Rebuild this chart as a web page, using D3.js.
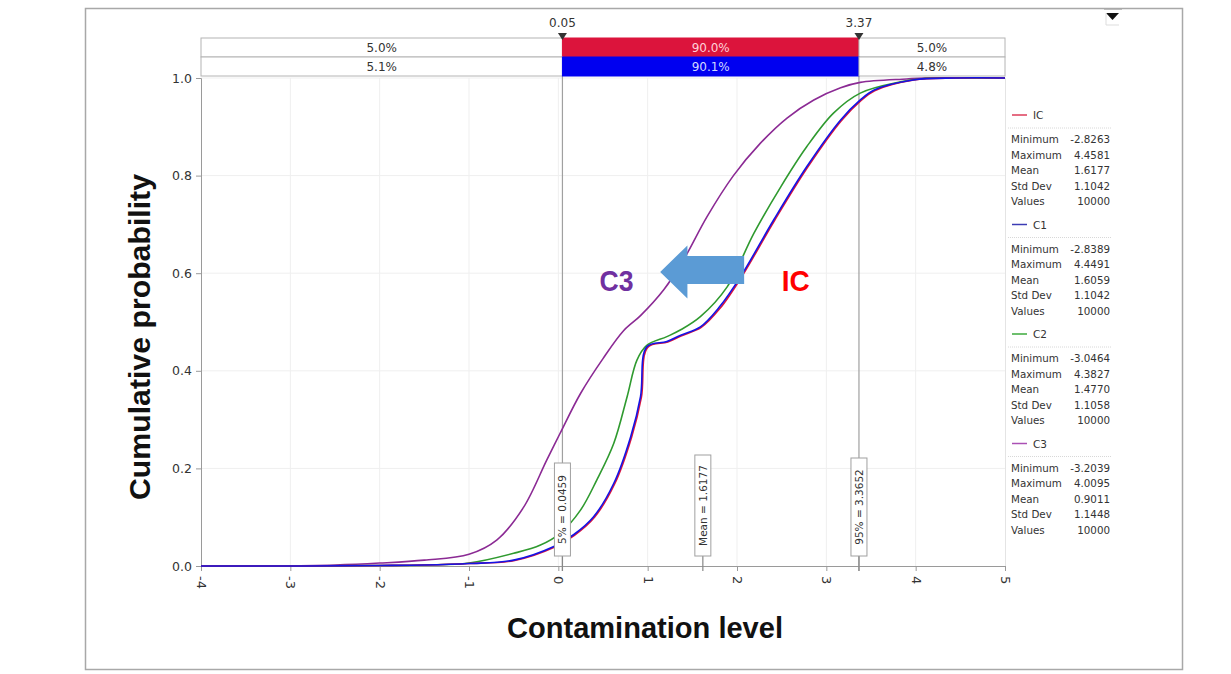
<!DOCTYPE html>
<html><head><meta charset="utf-8">
<script src="https://cdn.jsdelivr.net/npm/d3@7"></script>
<style>body{margin:0;background:#fff;} svg{display:block;}</style>
</head><body><svg id="c" width="1231" height="674"></svg>
<script>
// ---------- data ----------
const xTicks = [-4, -3, -2, -1, 0, 1, 2, 3, 4, 5];
const yTicks = [0, 0.2, 0.4, 0.6, 0.8, 1.0];
const seriesNames = ["IC", "C1", "C2", "C3"];
const seriesColors = ["#dc143c", "#1414e6", "#2f9a2f", "#8b2a94"];
const legendColors = ["#dc3c5a", "#3c3cb4", "#3caa3c", "#aa50b4"];

const icPts = [[-4,0],[-2.83,0],[-2,0.001],[-1.5,0.002],[-1,0.005],[-0.5,0.011],[-0.04,0.039],[0.18,0.063],[0.405,0.1],[0.63,0.168],[0.82,0.264],[0.93,0.346],[1.0,0.448],[1.225,0.459],[1.38,0.472],[1.6,0.489],[1.81,0.528],[2.05,0.592],[2.42,0.708],[2.79,0.817],[3.17,0.913],[3.39,0.954],[3.54,0.974],[3.98,0.996],[4.46,1],[5,1]];
const c1Pts = [[-4,0],[-2.84,0],[-2,0.001],[-1.5,0.002],[-1,0.005],[-0.5,0.012],[-0.05,0.04],[0.17,0.064],[0.395,0.101],[0.62,0.169],[0.81,0.265],[0.92,0.347],[0.99,0.449],[1.215,0.46],[1.37,0.473],[1.59,0.49],[1.8,0.53],[2.04,0.593],[2.41,0.709],[2.78,0.818],[3.16,0.914],[3.38,0.955],[3.53,0.975],[3.97,0.996],[4.45,1],[5,1]];
const c2Pts = [[-4,0],[-3.05,0],[-2,0.001],[-1.5,0.002],[-1,0.006],[-0.5,0.026],[-0.2,0.043],[0.02,0.067],[0.25,0.115],[0.43,0.176],[0.62,0.251],[0.77,0.347],[0.88,0.422],[0.99,0.452],[1.215,0.47],[1.37,0.484],[1.59,0.511],[1.89,0.572],[2.19,0.682],[2.49,0.777],[2.78,0.859],[3.08,0.928],[3.38,0.969],[3.83,0.992],[4.09,0.999],[4.38,1],[5,1]];
const c3Pts = [[-4,0],[-3.2,0],[-2.5,0.002],[-2,0.006],[-1.5,0.012],[-1,0.024],[-0.69,0.053],[-0.39,0.12],[-0.13,0.217],[0.02,0.272],[0.25,0.354],[0.5,0.425],[0.73,0.482],[0.92,0.513],[1.18,0.566],[1.4,0.627],[1.665,0.716],[1.96,0.8],[2.26,0.866],[2.56,0.918],[2.86,0.955],[3.16,0.98],[3.38,0.991],[3.9,0.998],[4.1,1],[5,1]];
const seriesPts = [icPts, c1Pts, c2Pts, c3Pts];

const statLabels = ["Minimum", "Maximum", "Mean", "Std Dev", "Values"];
const statsIC = ["-2.8263", "4.4581", "1.6177", "1.1042", "10000"];
const statsC1 = ["-2.8389", "4.4491", "1.6059", "1.1042", "10000"];
const statsC2 = ["-3.0464", "4.3827", "1.4770", "1.1058", "10000"];
const statsC3 = ["-3.2039", "4.0095", "0.9011", "1.1448", "10000"];
const allStats = [statsIC, statsC1, statsC2, statsC3];

const bandCuts = [0.0459, 3.3652];
const cutLabels = ["0.05", "3.37"];
const bandTop = ["5.0%", "90.0%", "5.0%"];
const bandBottom = ["5.1%", "90.1%", "4.8%"];
const markerVals = [0.0459, 1.6177, 3.3652];
const markerLabels = ["5% = 0.0459", "Mean = 1.6177", "95% = 3.3652"];

// annotation arrow (data units): tip x, head base x, tail x, body p range, head p range
const arrowX = [1.14, 1.445, 2.08];
const arrowBodyP = [0.578, 0.635];
const arrowHeadP = [0.548, 0.657];

// ---------- layout ----------
const svg = d3.select("#c");
const X0 = 201, X1 = 1005, YT = 78, YB = 566;
const x = d3.scaleLinear().domain([-4, 5]).range([X0, X1]);
const y = d3.scaleLinear().domain([0, 1]).range([YB, YT]);
const F = "'DejaVu Sans', Verdana, sans-serif";

// outer frame
svg.append("rect").attr("x", 85.5).attr("y", 8.5).attr("width", 1097).attr("height", 661)
  .attr("fill", "none").attr("stroke", "#a8a8a8").attr("stroke-width", 1.5);

// grid
const g = svg.append("g");
g.selectAll("line.vg").data(xTicks.slice(1, -1)).join("line")
  .attr("x1", d => x(d)).attr("x2", d => x(d)).attr("y1", YT).attr("y2", YB)
  .attr("stroke", "#efefef");
g.selectAll("line.hg").data(yTicks.slice(1)).join("line")
  .attr("x1", X0).attr("x2", X1).attr("y1", d => y(d)).attr("y2", d => y(d))
  .attr("stroke", "#efefef");
svg.append("line").attr("x1", X1 + 0.5).attr("x2", X1 + 0.5).attr("y1", YT).attr("y2", YB).attr("stroke", "#e4e4e4");

// axes
const ya = svg.append("g").attr("transform", `translate(${X0},0)`)
  .call(d3.axisLeft(y).tickValues(yTicks).tickFormat(d3.format(".1f")).tickSize(5).tickPadding(4));
ya.select(".domain").attr("stroke", "#9a9a9a");
ya.selectAll(".tick line").attr("stroke", "#9a9a9a");
ya.selectAll("text").attr("font-family", F).attr("font-size", 12.5).attr("fill", "#333");

const xa = svg.append("g").attr("transform", `translate(0,${YB})`)
  .call(d3.axisBottom(x).tickValues(xTicks).tickFormat(d => String(d)).tickSize(5));
xa.select(".domain").attr("stroke", "#9a9a9a");
xa.selectAll(".tick line").attr("stroke", "#9a9a9a");
xa.selectAll("text").attr("font-family", F).attr("font-size", 13).attr("fill", "#333")
  .attr("transform", "rotate(90)").attr("text-anchor", "start")
  .attr("x", 10).attr("y", 0).attr("dy", "0.35em");

// cut lines through plot and band
bandCuts.forEach(v => {
  svg.append("line").attr("x1", x(v)).attr("x2", x(v)).attr("y1", 38).attr("y2", YB + 5)
    .attr("stroke", "#a0a0a0").attr("stroke-width", 1.2);
});

// top band
const bandEdges = [X0, x(bandCuts[0]), x(bandCuts[1]), X1];
const rows = [{y: 38, labels: bandTop, mid: "#dc143c", midText: "#ffd0d8"},
              {y: 57, labels: bandBottom, mid: "#0000f0", midText: "#d0d8ff"}];
rows.forEach(r => {
  for (let i = 0; i < 3; i++) {
    svg.append("rect").attr("x", bandEdges[i]).attr("y", r.y)
      .attr("width", bandEdges[i + 1] - bandEdges[i]).attr("height", 19)
      .attr("fill", i === 1 ? r.mid : "#fff").attr("stroke", i === 1 ? r.mid : "#b4b4b4");
    svg.append("text").attr("x", (bandEdges[i] + bandEdges[i + 1]) / 2).attr("y", r.y + 14)
      .attr("text-anchor", "middle").attr("font-family", F).attr("font-size", 12)
      .attr("fill", i === 1 ? r.midText : "#333").text(r.labels[i]);
  }
});
bandCuts.forEach((v, i) => {
  svg.append("text").attr("x", x(v)).attr("y", 27).attr("text-anchor", "middle")
    .attr("font-family", F).attr("font-size", 12).attr("fill", "#333").text(cutLabels[i]);
  const cx = x(v);
  svg.append("path").attr("d", `M${cx - 4.5},33 L${cx + 4.5},33 L${cx},40 Z`).attr("fill", "#333");
});

// curves
const line = d3.line().x(d => x(d[0])).y(d => y(d[1])).curve(d3.curveCatmullRom.alpha(0.5));
[3, 2, 0, 1].forEach(i => {
  svg.append("path").attr("d", line(seriesPts[i])).attr("fill", "none")
    .attr("stroke", seriesColors[i]).attr("stroke-width", 1.6);
});

// marker boxes
const boxTops = [463, 455, 458];
markerVals.forEach((v, i) => {
  const cx = x(v);
  svg.append("line").attr("x1", cx).attr("x2", cx).attr("y1", 556).attr("y2", YB + 5)
    .attr("stroke", "#888").attr("stroke-width", 1.2);
  svg.append("rect").attr("x", cx - 8).attr("y", boxTops[i]).attr("width", 16).attr("height", 556 - boxTops[i])
    .attr("fill", "#fff").attr("stroke", "#a0a0a0");
  svg.append("text").attr("transform", `translate(${cx + 4},${(boxTops[i] + 556) / 2}) rotate(-90)`)
    .attr("text-anchor", "middle").attr("font-family", F).attr("font-size", 10.5)
    .attr("fill", "#333").text(markerLabels[i]);
});

// annotation arrow
const ap = d3.path();
ap.moveTo(x(arrowX[0]), y((arrowHeadP[0] + arrowHeadP[1]) / 2));
ap.lineTo(x(arrowX[1]), y(arrowHeadP[1]));
ap.lineTo(x(arrowX[1]), y(arrowBodyP[1]));
ap.lineTo(x(arrowX[2]), y(arrowBodyP[1]));
ap.lineTo(x(arrowX[2]), y(arrowBodyP[0]));
ap.lineTo(x(arrowX[1]), y(arrowBodyP[0]));
ap.lineTo(x(arrowX[1]), y(arrowHeadP[0]));
ap.closePath();
svg.append("path").attr("d", ap.toString()).attr("fill", "#5b9bd5");

const TF = "'Liberation Sans Narrow', 'Liberation Sans', Arial, sans-serif";
svg.append("text").attr("x", x(0.46)).attr("y", y(0.563)).attr("font-family", TF)
  .attr("font-weight", "bold").attr("font-size", 30).attr("fill", "#7030a0")
  .attr("textLength", 34).attr("lengthAdjust", "spacingAndGlyphs").text("C3");
svg.append("text").attr("x", x(2.5)).attr("y", y(0.563)).attr("font-family", TF)
  .attr("font-weight", "bold").attr("font-size", 30).attr("fill", "#ff0000")
  .attr("textLength", 28).attr("lengthAdjust", "spacingAndGlyphs").text("IC");

// axis titles
svg.append("text").attr("x", 645).attr("y", 638).attr("text-anchor", "middle")
  .attr("font-family", TF).attr("font-weight", "bold").attr("font-size", 30).attr("fill", "#111")
  .attr("textLength", 276).attr("lengthAdjust", "spacingAndGlyphs").text("Contamination level");
svg.append("text").attr("transform", "translate(150,337) rotate(-90)").attr("text-anchor", "middle")
  .attr("font-family", TF).attr("font-weight", "bold").attr("font-size", 30).attr("fill", "#111")
  .attr("textLength", 326).attr("lengthAdjust", "spacingAndGlyphs").text("Cumulative probability");

// legend
seriesNames.forEach((name, i) => {
  const top = 115 + i * 109.5;
  svg.append("line").attr("x1", 1012).attr("x2", 1027).attr("y1", top).attr("y2", top)
    .attr("stroke", legendColors[i]).attr("stroke-width", 1.5);
  svg.append("text").attr("x", 1033).attr("y", top + 4).attr("font-family", F).attr("font-size", 10.5)
    .attr("fill", "#333").text(name);
  svg.append("line").attr("x1", 1008).attr("x2", 1112).attr("y1", top + 13).attr("y2", top + 13)
    .attr("stroke", "#d8d8d8").attr("stroke-dasharray", "1,1");
  statLabels.forEach((lab, j) => {
    const yy = top + 28 + j * 15.6;
    svg.append("text").attr("x", 1011).attr("y", yy).attr("font-family", F).attr("font-size", 10.3)
      .attr("fill", "#333").text(lab);
    svg.append("text").attr("x", 1110).attr("y", yy).attr("text-anchor", "end").attr("font-family", F)
      .attr("font-size", 10.3).attr("fill", "#333").text(allStats[i][j]);
  });
});

// top-right dropdown icon
svg.append("line").attr("x1", 1104).attr("x2", 1122).attr("y1", 9.5).attr("y2", 9.5).attr("stroke", "#bbb");
svg.append("path").attr("d", "M1106,13 L1119,13 L1112.5,20 Z").attr("fill", "#111");
svg.append("line").attr("x1", 1106).attr("x2", 1106).attr("y1", 13).attr("y2", 25).attr("stroke", "#ddd");
svg.append("line").attr("x1", 1106).attr("x2", 1119).attr("y1", 25).attr("y2", 25).attr("stroke", "#ddd");
</script></body></html>
